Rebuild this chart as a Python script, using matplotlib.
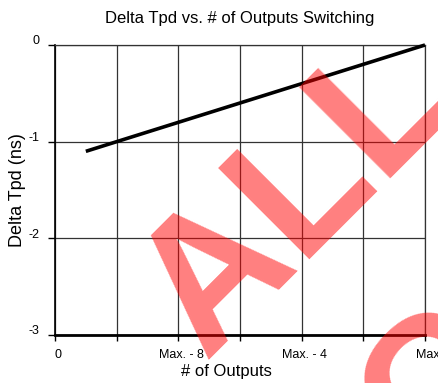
import numpy as np
import matplotlib.pyplot as plt
import matplotlib.transforms as mtransforms

plt.rcParams['font.family'] = ['Liberation Sans', 'DejaVu Sans']
plt.rcParams['axes.unicode_minus'] = False

# Delta propagation delay vs. number of outputs switching
outputs = [1, 4, 8, 12]
delta_tpd = [-1.1, -0.8, -0.4, 0.0]

x_ticks = [0, 2, 4, 6, 8, 10, 12]
x_labels = ['0', '', 'Max. - 8', '', 'Max. - 4', '', 'Max']
y_ticks = [-3, -2, -1, 0]

W, H = 439, 383
fig = plt.figure(figsize=(W / 100, H / 100), dpi=100)
ax = fig.add_axes([55 / W, 1 - 335 / H, 370 / W, 290 / H])

ax.plot(outputs, delta_tpd, color='black', lw=2.6, solid_capstyle='butt',
        clip_on=False, zorder=3)

ax.set_xlim(0, 12)
ax.set_ylim(-3, 0)
ax.set_xticks(x_ticks)
ax.set_xticklabels(x_labels)
ax.set_yticks(y_ticks)
ax.grid(True, color='#333333', lw=0.9)

ax.tick_params(axis='x', length=4, width=1, pad=6, labelsize=9, direction='out')
ax.tick_params(axis='y', length=5, width=1, pad=6, labelsize=9, direction='out')

# nudge tick labels: x ones a bit right, y ones a bit up
dx = mtransforms.ScaledTranslation(3 / 100, 0, fig.dpi_scale_trans)
for lbl in ax.get_xticklabels():
    lbl.set_transform(lbl.get_transform() + dx)
dy = mtransforms.ScaledTranslation(0, 5 / 100, fig.dpi_scale_trans)
for lbl in ax.get_yticklabels():
    lbl.set_transform(lbl.get_transform() + dy)

for side in ['top', 'right']:
    ax.spines[side].set_color('#333333')
    ax.spines[side].set_linewidth(0.9)
ax.spines['left'].set_linewidth(1.2)
ax.spines['bottom'].set_linewidth(2.0)

ax.set_title('Delta Tpd vs. # of Outputs Switching', fontsize=12, pad=16)
ax.set_xlabel('# of Outputs', fontsize=12)
ax.set_ylabel('Delta Tpd (ns)', fontsize=13)
ax.xaxis.set_label_coords(0.462, -0.10)
ax.yaxis.set_label_coords(-0.078, 0.5)

# diagonal watermark
wm = dict(rotation=45, rotation_mode='anchor', ha='left', va='baseline',
          fontsize=135, fontweight='bold', color='red', alpha=0.5, zorder=10)
fig.text(204 / W, 1 - 360 / H, 'ALL', **wm)
fig.text(426 / W, 1 - 472 / H, 'C', **wm)

fig.savefig('out.png', dpi=100)
